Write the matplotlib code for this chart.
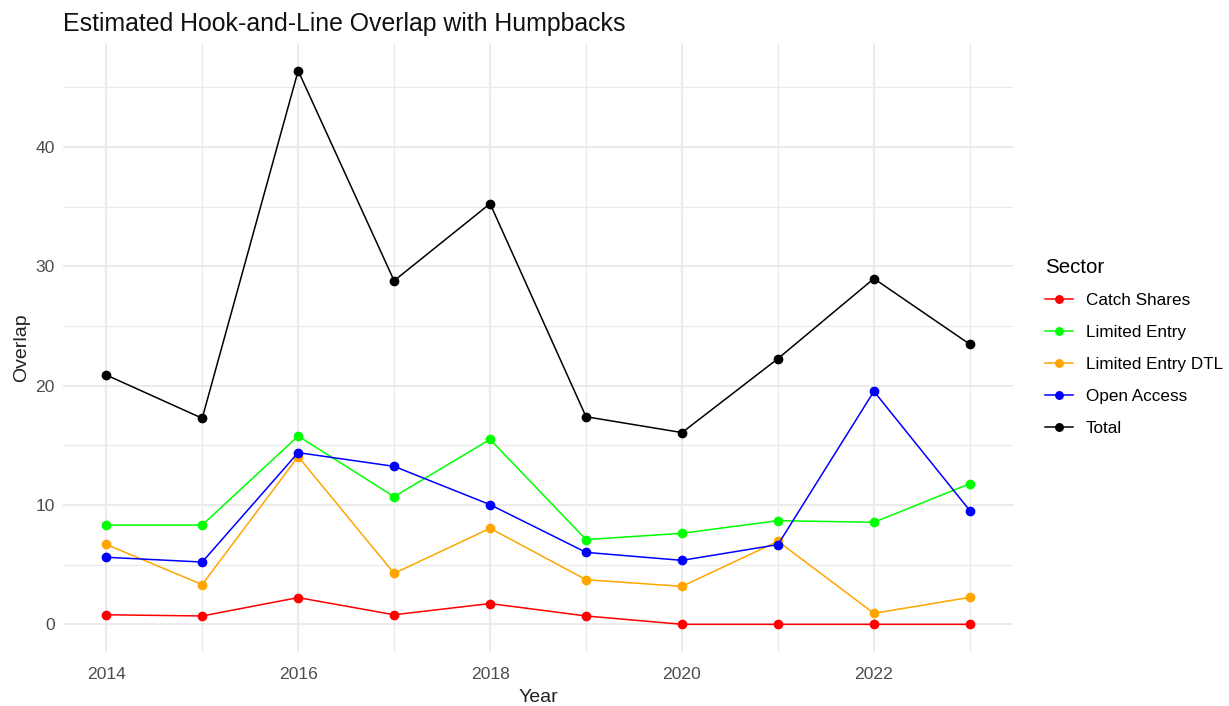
import matplotlib
matplotlib.use("Agg")
import matplotlib.pyplot as plt
from matplotlib.ticker import MultipleLocator, FixedLocator

plt.rcParams['font.family'] = ['Liberation Sans', 'DejaVu Sans']

years = list(range(2014, 2024))
sectors = ["Catch Shares", "Limited Entry", "Limited Entry DTL", "Open Access", "Total"]
catch_shares = [0.8, 0.7, 2.24, 0.8, 1.74, 0.7, 0.0, 0.0, 0.0, 0.0]
limited_entry = [8.32, 8.32, 15.78, 10.7, 15.5, 7.1, 7.63, 8.69, 8.55, 11.79]
limited_entry_dtl = [6.7, 3.33, 14.06, 4.27, 8.05, 3.74, 3.18, 6.96, 0.92, 2.26]
open_access = [5.62, 5.22, 14.39, 13.24, 10.03, 6.03, 5.36, 6.68, 19.53, 9.53]
total = [20.9, 17.27, 46.4, 28.8, 35.26, 17.4, 16.07, 22.27, 28.98, 23.47]
colors = ["#FF0000", "#00FF00", "#FFA500", "#0000FF", "#000000"]

series = [catch_shares, limited_entry, limited_entry_dtl, open_access, total]

fig = plt.figure(figsize=(12.29, 7.06), dpi=100)
ax = fig.add_axes([0.0513, 0.0765, 0.773, 0.8625])

for name, vals, col in zip(sectors, series, colors):
    ax.plot(years, vals, color=col, lw=1.1, marker="o", ms=6, label=name)

ax.set_xlim(2013.55, 2023.45)
ax.set_ylim(-2.32, 48.72)
ax.xaxis.set_major_locator(FixedLocator([2014, 2016, 2018, 2020, 2022]))
ax.xaxis.set_minor_locator(FixedLocator([2015, 2017, 2019, 2021, 2023]))
ax.yaxis.set_major_locator(MultipleLocator(10))
ax.yaxis.set_minor_locator(FixedLocator([5, 15, 25, 35, 45]))

ax.grid(which="major", color="#EBEBEB", lw=1.5)
ax.grid(which="minor", color="#EBEBEB", lw=0.9)
ax.set_axisbelow(True)
for s in ax.spines.values():
    s.set_visible(False)
ax.tick_params(which="both", length=0, labelsize=12.6, labelcolor="#4D4D4D")
ax.tick_params(axis="x", pad=11)
ax.tick_params(axis="y", pad=6)

ax.set_xlabel("Year", fontsize=14, color="#222222", labelpad=5)
ax.set_ylabel("Overlap", fontsize=14, color="#222222", labelpad=4)
fig.text(0.0513, 0.983, "Estimated Hook-and-Line Overlap with Humpbacks",
         fontsize=17.9, color="#111111", va="top", ha="left")

leg = fig.legend(loc="upper left", bbox_to_anchor=(0.838, 0.657), frameon=False,
                 title="Sector", fontsize=12.3, title_fontsize=14.8,
                 handlelength=1.6, handletextpad=0.76, labelspacing=0.99,
                 markerscale=0.9)
leg._legend_box.align = "left"

fig.savefig("out.png", dpi=100)
